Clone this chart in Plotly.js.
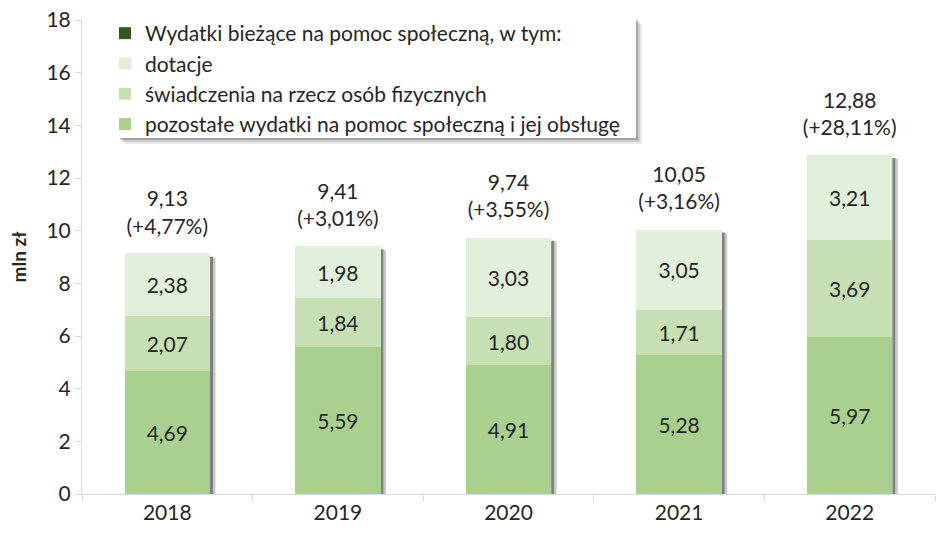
<!DOCTYPE html>
<html><head><meta charset="utf-8">
<script src="https://cdn.plot.ly/plotly-3.0.1.min.js"></script>
<style>html,body{margin:0;padding:0;background:#fff}#c{width:939px;height:539px}</style>
</head><body><div id="c"></div>
<script>
var years = ['2018','2019','2020','2021','2022'];
var pozostale = [4.69, 5.59, 4.91, 5.28, 5.97];
var swiadczenia = [2.07, 1.84, 1.80, 1.71, 3.69];
var dotacje = [2.38, 1.98, 3.03, 3.05, 3.21];
var totals = [9.13, 9.41, 9.74, 10.05, 12.88];
var changes = [4.77, 3.01, 3.55, 3.16, 28.11];

var FONT = 'Lato, "Open Sans", sans-serif';
var TXT = '#262626';
var FS = 21;

function seg(name, vals, color, rank) {
  return {
    type: 'bar', name: name, x: years, y: vals, legendrank: rank,
    marker: {color: color, line: {width: 0}},
    texttemplate: '%{y:.2f}', textposition: 'inside', insidetextanchor: 'middle',
    textangle: 0, textfont: {family: FONT, size: FS, color: TXT},
    constraintext: 'none', hoverinfo: 'skip'
  };
}
var traces = [
  seg('pozostałe wydatki na pomoc społeczną i jej obsługę', pozostale, '#a9d08e', 4),
  seg('świadczenia na rzecz osób fizycznych', swiadczenia, '#c6e0b4', 3),
  seg('dotacje', dotacje, '#e2efda', 2),
  {type: 'bar', name: 'Wydatki bieżące na pomoc społeczną, w tym:', legendrank: 1,
   x: years, y: years.map(function(){return 0;}), marker: {color: '#375623', line: {width: 0}}, hoverinfo: 'skip'},
  {type: 'scatter', mode: 'markers+text', x: years, y: totals, customdata: changes, showlegend: false,
   marker: {size: 22, color: 'rgba(0,0,0,0)'},
   texttemplate: '%{y:.2f}<br>(+%{customdata:.2f}%)', textposition: 'top center',
   textfont: {family: FONT, size: FS, color: TXT}, hoverinfo: 'skip', cliponaxis: false}
];

var L = 82, R = 4, T = 20, B = 45, W = 939, H = 539;
var pw = W - L - R, ph = H - T - B;
function px(x){ return (x - L) / pw; }
function py(y){ return (H - B - y) / ph; }

var shapes = [];
for (var i = 0; i < years.length; i++) {
  shapes.push({type:'rect', xref:'x', yref:'y', layer:'below', x0: i+0.25, x1: i+0.25+0.018, y0: -0.5, y1: totals[i]-0.12,
    fillcolor:'#6a6a6a', opacity:0.85, line:{width:0}});
  shapes.push({type:'rect', xref:'x', yref:'y', layer:'below', x0: i+0.25+0.018, x1: i+0.25+0.032, y0: -0.5, y1: totals[i]-0.15,
    fillcolor:'#b0b0b0', opacity:0.7, line:{width:0}});
}
var LBR = 636;
[[6,0.12],[4,0.2],[2,0.35]].forEach(function(s){
  shapes.push({type:'rect', xref:'paper', yref:'paper', layer:'above',
    x0: px(120+s[0]-2), x1: px(LBR+s[0]), y0: py(138+s[0]), y1: py(20+s[0]-2),
    fillcolor:'#555', opacity:s[1], line:{width:0}});
});
shapes.push({type:'rect', xref:'paper', yref:'paper', layer:'above',
  x0: px(120), x1: px(LBR), y0: py(138), y1: py(20), fillcolor:'#ffffff', line:{width:0}});

var layout = {
  width: W, height: H, margin: {l: L, r: R, t: T, b: B, pad: 0},
  paper_bgcolor: '#fff', plot_bgcolor: 'rgba(0,0,0,0)',
  barmode: 'stack', bargap: 0.5, separators: ', ',
  font: {family: FONT, size: FS, color: TXT},
  showlegend: true,
  legend: {x: px(105), xanchor: 'left', y: py(13), yanchor: 'top', bgcolor: 'rgba(0,0,0,0)',
    traceorder: 'normal', font: {family: FONT, size: FS, color: TXT}},
  xaxis: {type: 'category', showline: true, linecolor: '#d9d9d9', linewidth: 1,
    ticks: 'outside', tickson: 'boundaries', ticklen: 6, tickcolor: '#d9d9d9',
    showgrid: false, zeroline: false, tickfont: {family: FONT, size: FS, color: TXT}, fixedrange: true},
  yaxis: {range: [0, 18], dtick: 2, showline: true, linecolor: '#d9d9d9', linewidth: 1,
    ticks: 'outside', ticklen: 6, tickcolor: '#d9d9d9', showgrid: false, zeroline: false,
    tickfont: {family: FONT, size: FS, color: TXT},
    title: {text: '<b>mln zł</b>', font: {family: FONT, size: 19, color: TXT}, standoff: 14}},
  shapes: shapes
};
Plotly.newPlot('c', traces, layout, {displayModeBar: false, staticPlot: true});
</script></body></html>
